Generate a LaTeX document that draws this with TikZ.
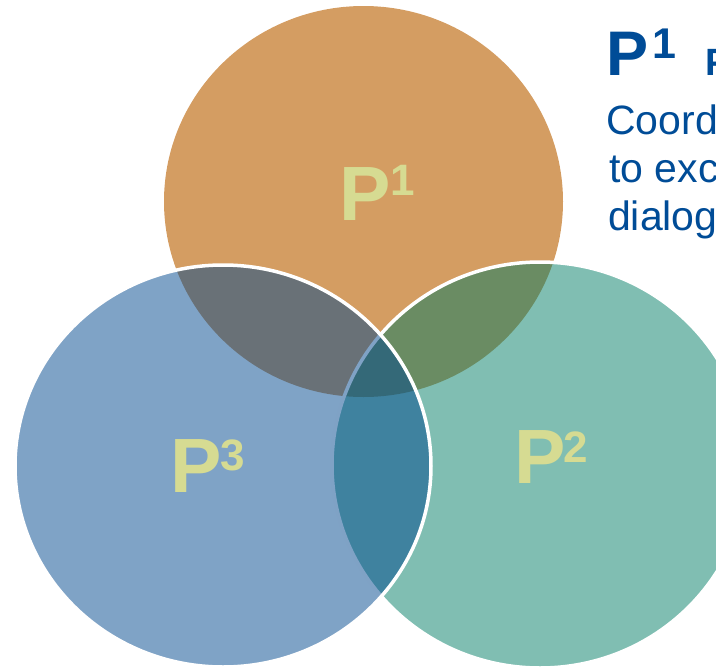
\documentclass[tikz,border=0pt]{standalone}
\usepackage{fontspec}
\setmainfont{Liberation Sans}
\definecolor{porange}{RGB}{212,157,98}
\definecolor{pteal}{RGB}{1,125,101}
\definecolor{pblue}{RGB}{0,71,141}
\definecolor{plabel}{RGB}{214,219,146}
\definecolor{ptext}{RGB}{0,76,151}
\tikzset{
  bigP/.style={anchor=base west, inner sep=0pt, text=plabel, font=\bfseries\fontsize{77}{77}\selectfont},
  supP/.style={anchor=base west, inner sep=0pt, text=plabel, font=\bfseries\fontsize{44}{44}\selectfont},
  ring/.style={draw=white, line width=3.5pt},
  titleP/.style={anchor=base west, inner sep=0pt, text=ptext, font=\bfseries\fontsize{63}{63}\selectfont},
  titlesup/.style={anchor=base west, inner sep=0pt, text=ptext, font=\bfseries\fontsize{43}{43}\selectfont},
  titlesmall/.style={anchor=base west, inner sep=0pt, text=ptext, font=\bfseries\fontsize{38}{38}\selectfont},
  bodytext/.style={anchor=base west, inner sep=0pt, text=ptext, font=\fontsize{41}{41}\selectfont}
}
\begin{document}
\begin{tikzpicture}[x=1pt,y=-1pt]
\useasboundingbox (0,0) rectangle (716,670);
\clip (0,0) rectangle (716,670);
% P1
\fill[porange] (363.5,201.5) ellipse [x radius=199.5, y radius=195.5];
% P2
\fill[pteal, fill opacity=0.5] (540,465) ellipse [x radius=208, y radius=203];
\draw[ring] (540,465) ellipse [x radius=208, y radius=203];
% P3
\fill[pblue, fill opacity=0.5] (223,466) ellipse [x radius=208, y radius=201];
\draw[ring] (223,466) ellipse [x radius=208, y radius=201];
% labels
\node[bigP] (l1) at (339,220) {P};
\node[supP] (s1) at (390,195) {1};
\node[bigP] (l3) at (170,492) {P};
\node[supP] (s3) at (220,470) {3};
\node[bigP] (l2) at (514,483) {P};
\node[supP] (s2) at (563,462) {2};
% title text
\node[titleP] (t1) at (606,75) {P};
\node[titlesup] (t1s) at (652,58) {1};
\node[titlesmall] (t2) at (705,75) {P};
\node[bodytext] (b1) at (606,134) {Coord};
\node[bodytext] (b2) at (609,182) {to exc};
\node[bodytext] (b3) at (608,230) {dialog};
\end{tikzpicture}
\end{document}
